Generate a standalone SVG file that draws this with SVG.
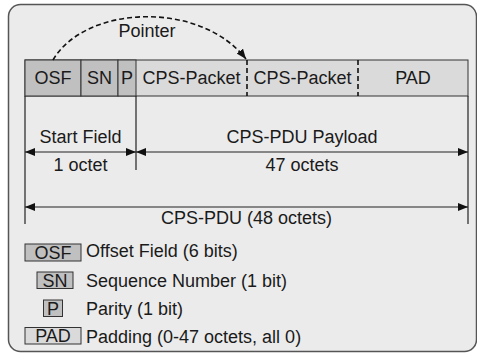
<svg xmlns="http://www.w3.org/2000/svg" width="477" height="353" viewBox="0 0 477 353">
<style>
text{font-family:"Liberation Sans",Arial,sans-serif;font-size:18px;fill:#1a1a1a}
.c{text-anchor:middle}
.dk{fill:#c0c0c0;stroke:#333;stroke-width:1}
.lt{fill:#dadada;stroke:#333;stroke-width:1}
.ln{stroke:#222;stroke-width:1.2;fill:none}
.dash{stroke:#111;stroke-width:1.6;stroke-dasharray:5,3;fill:none}
</style>
<defs>
<marker id="ah" viewBox="0 0 10 8" refX="10" refY="4" markerWidth="10" markerHeight="8" markerUnits="userSpaceOnUse" orient="auto-start-reverse">
<path d="M0,0 L10,4 L0,8 Z" fill="#111"/>
</marker>
</defs>
<rect x="0" y="0" width="477" height="353" fill="#fff"/>
<rect x="8.5" y="4.5" width="468" height="347" rx="12" fill="#ebebeb" stroke="#555" stroke-width="1.5"/>
<g id="bar">
<rect x="25" y="60" width="443" height="36" fill="#dadada" stroke="#333" stroke-width="1"/>
<g id="osf"><rect class="dk" x="25" y="60" width="56" height="36"/><text class="c" x="53" y="84">OSF</text></g>
<g id="sn"><rect class="dk" x="81" y="60" width="37" height="36"/><text class="c" x="99.5" y="84">SN</text></g>
<g id="p"><rect class="dk" x="118" y="60" width="18" height="36"/><text class="c" x="127" y="84">P</text></g>
<g id="pkt1"><text class="c" x="191.5" y="84">CPS-Packet</text></g>
<g id="pkt2"><text class="c" x="302.5" y="84">CPS-Packet</text></g>
<g id="pad"><text class="c" x="413" y="84">PAD</text></g>
</g>
<g id="connectors">
<line class="dash" x1="247" y1="60" x2="247" y2="96"/>
<line class="dash" x1="358" y1="60" x2="358" y2="96"/>
<path class="dash" d="M53,60 C85,5 200,0 246,59" marker-end="url(#ah)" stroke-dasharray="6,4"/>
<line class="ln" x1="25" y1="96" x2="25" y2="224"/>
<line class="ln" x1="136" y1="96" x2="136" y2="170"/>
<line class="ln" x1="468" y1="96" x2="468" y2="224"/>
<line class="ln" x1="25" y1="152" x2="136" y2="152" marker-start="url(#ah)" marker-end="url(#ah)"/>
<line class="ln" x1="136" y1="152" x2="468" y2="152" marker-start="url(#ah)" marker-end="url(#ah)"/>
<line class="ln" x1="25" y1="207" x2="468" y2="207" marker-start="url(#ah)" marker-end="url(#ah)"/>
</g>
<g id="labels">
<text class="c" x="147" y="37">Pointer</text>
<text class="c" x="80.5" y="143">Start Field</text>
<text class="c" x="80.5" y="171">1 octet</text>
<text class="c" x="302" y="143">CPS-PDU Payload</text>
<text class="c" x="302" y="171">47 octets</text>
<text class="c" x="246.5" y="224">CPS-PDU (48 octets)</text>
</g>
<g id="legend-osf"><rect class="dk" x="25" y="244" width="56" height="17"/><text class="c" x="53" y="259">OSF</text><text x="86" y="257">Offset Field (6 bits)</text></g>
<g id="legend-sn"><rect class="dk" x="37" y="272" width="36" height="16.5"/><text class="c" x="55" y="286.5">SN</text><text x="86" y="287">Sequence Number (1 bit)</text></g>
<g id="legend-p"><rect class="dk" x="43.5" y="300" width="19" height="16.5"/><text class="c" x="53" y="314.5">P</text><text x="86" y="315">Parity (1 bit)</text></g>
<g id="legend-pad"><rect class="lt" x="25" y="327.5" width="56" height="16.5"/><text class="c" x="53" y="342">PAD</text><text x="86" y="343">Padding (0-47 octets, all 0)</text></g>
</svg>
